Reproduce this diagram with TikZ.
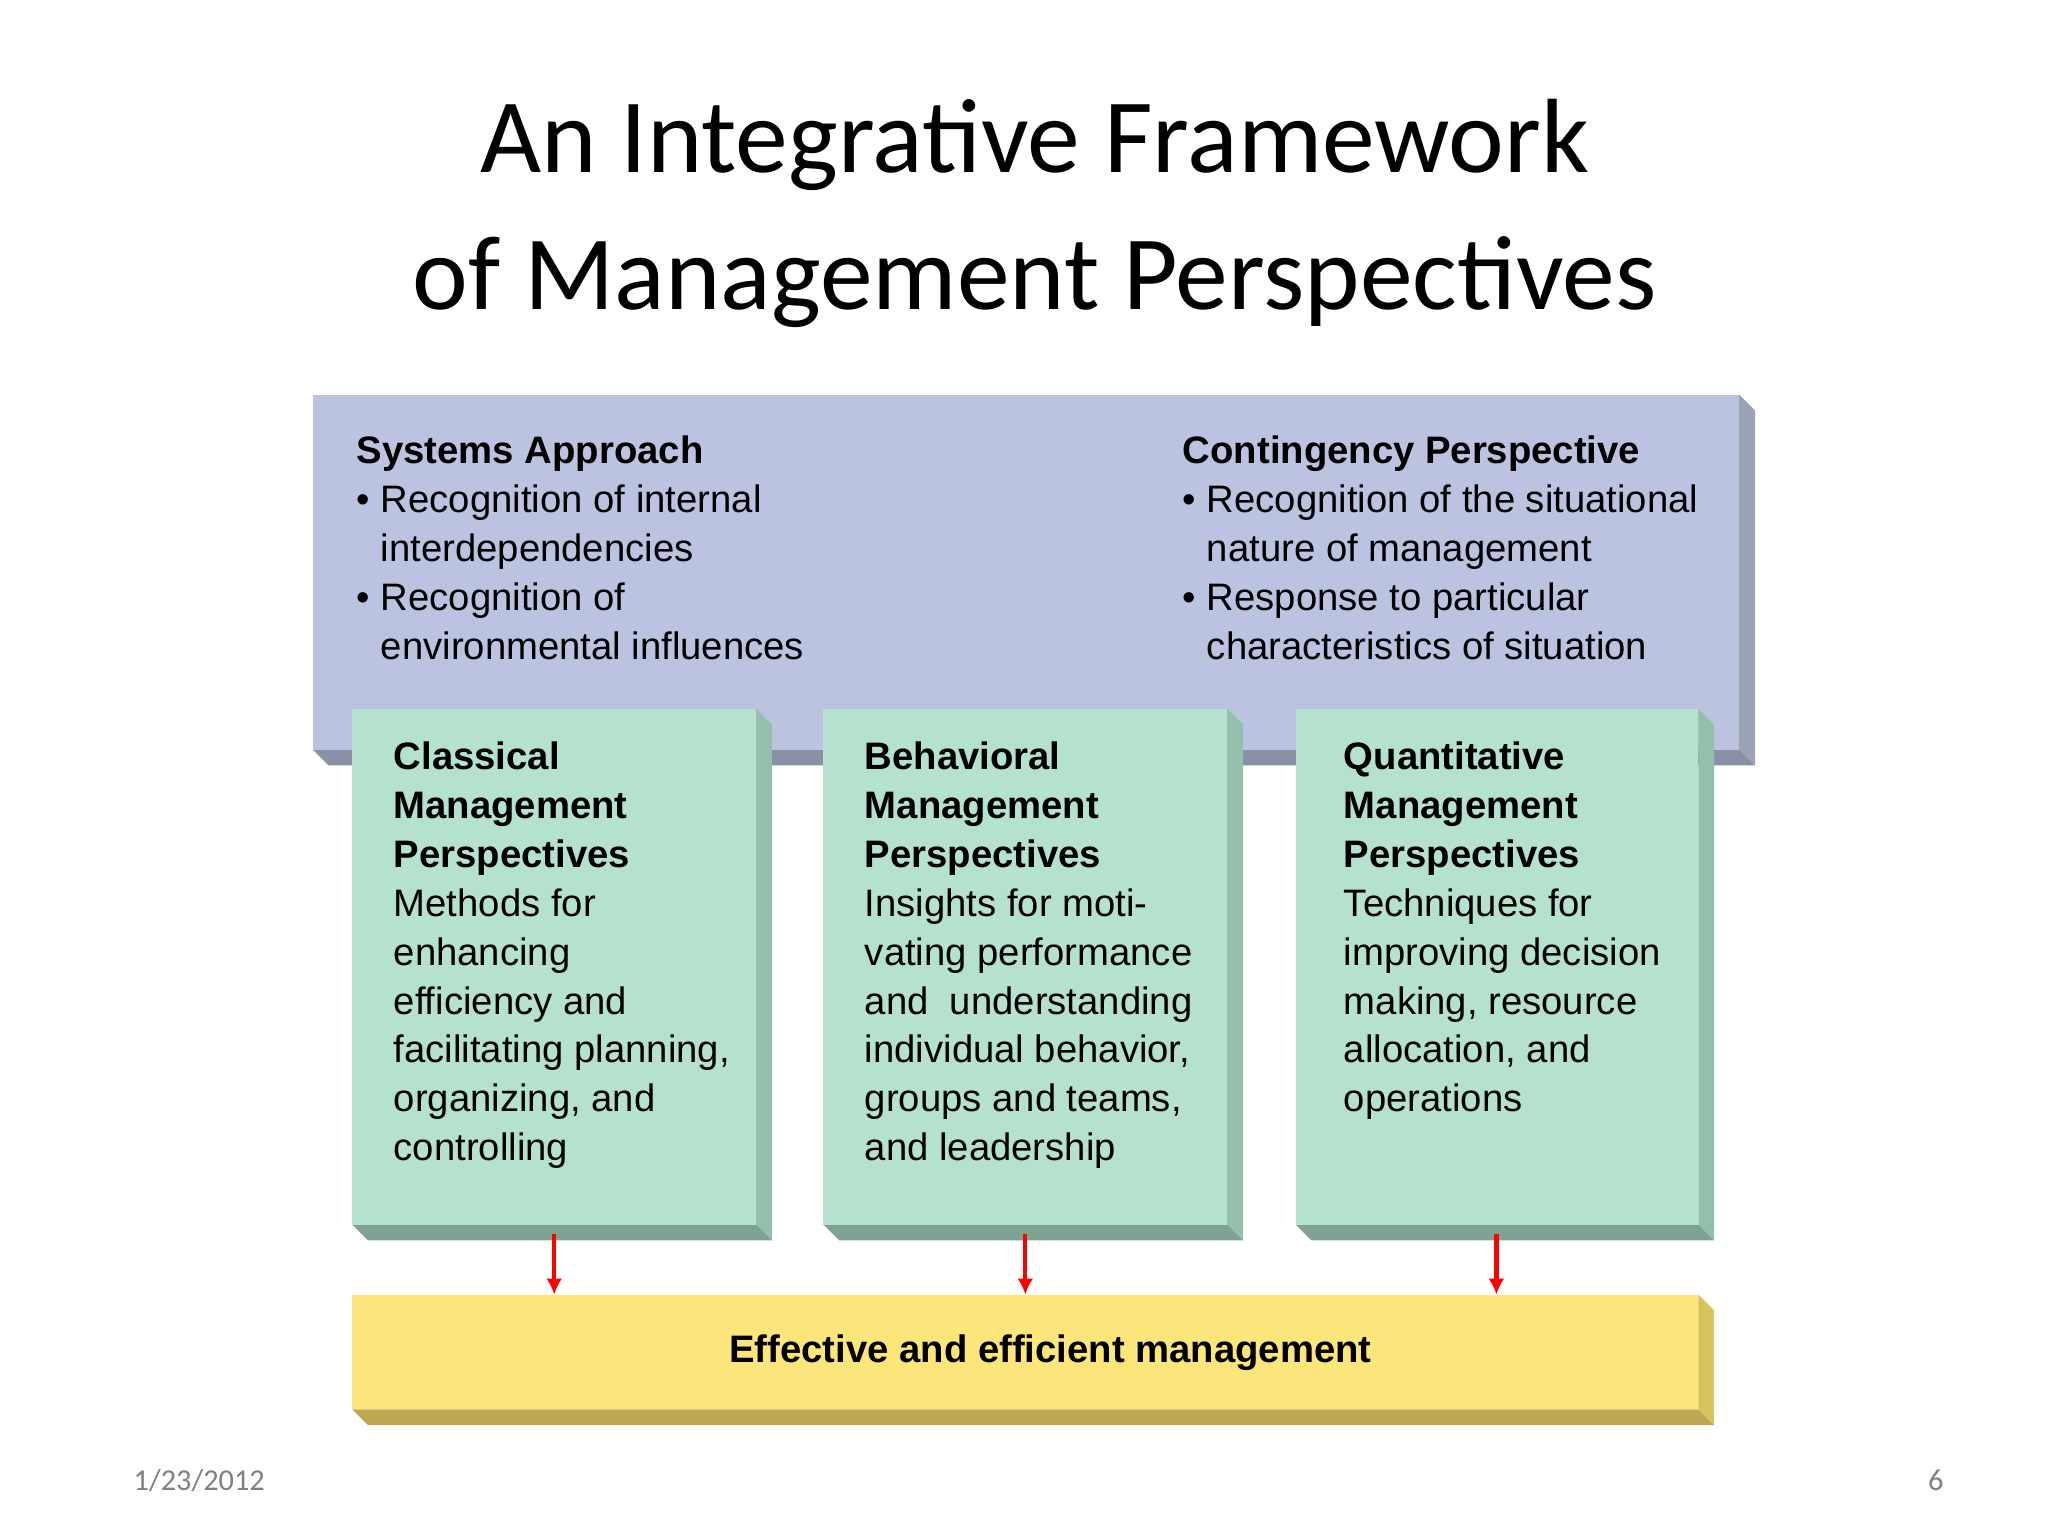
\documentclass[tikz,border=0pt]{standalone}
\usepackage{fontspec}
\setmainfont{Liberation Sans}
\newfontfamily\titlefont{Carlito}
\begin{document}
\begin{tikzpicture}[x=0.5pt,y=-0.5pt,
  txt/.style={anchor=north west,align=left,inner sep=0pt,font=\fontsize{14.5}{18.5}\selectfont},
  arr/.style={draw=red,line width=1.6pt,-{Latex[length=6pt,width=6pt]}}]
\useasboundingbox (0,0) rectangle (1552,1164);
\fill[white] (0,0) rectangle (1552,1164);
\usetikzlibrary{arrows.meta}
\node[font=\titlefont\fontsize{40}{52}\selectfont,align=center] (title) at (784,162) {An Integrative Framework\\of Management Perspectives};
% blue box
\fill[fill={rgb,255:red,157;green,163;blue,183}] (1318,299)--(1330,311)--(1330,580)--(1318,568)--cycle;
\fill[fill={rgb,255:red,138;green,144;blue,165}] (237,568)--(1318,568)--(1330,580)--(249,580)--cycle;
\fill[fill={rgb,255:red,188;green,195;blue,224}] (237,299) rectangle (1318,568);
\node[txt] (sys) at (270,330) {\textbf{Systems Approach}\\• Recognition of internal\\\hphantom{• }interdependencies\\• Recognition of\\\hphantom{• }environmental influences};
\node[txt] (con) at (896,330) {\textbf{Contingency Perspective}\\• Recognition of the situational\\\hphantom{• }nature of management\\• Response to particular\\\hphantom{• }characteristics of situation};
% green boxes
\foreach \a/\b in {267/573,624/930,982/1287}{
  \fill[fill={rgb,255:red,149;green,191;blue,173}] (\b,537)--(\b+12,549)--(\b+12,940)--(\b,928)--cycle;
  \fill[fill={rgb,255:red,127;green,163;blue,147}] (\a,928)--(\b,928)--(\b+12,940)--(\a+12,940)--cycle;
  \fill[fill={rgb,255:red,181;green,226;blue,206}] (\a,537) rectangle (\b,928);
}
\node[txt] (cl) at (298,562) {\textbf{Classical}\\\textbf{Management}\\\textbf{Perspectives}\\Methods for\\enhancing\\efficiency and\\facilitating planning,\\organizing, and\\controlling};
\node[txt] (be) at (655,562) {\textbf{Behavioral}\\\textbf{Management}\\\textbf{Perspectives}\\Insights for moti-\\vating performance\\and\ \ understanding\\individual behavior,\\groups and teams,\\and leadership};
\node[txt] (qu) at (1018,562) {\textbf{Quantitative}\\\textbf{Management}\\\textbf{Perspectives}\\Techniques for\\improving decision\\making, resource\\allocation, and\\operations};
% yellow
\fill[fill={rgb,255:red,216;green,196;blue,95}] (1287,981)--(1299,993)--(1299,1080)--(1287,1068)--cycle;
\fill[fill={rgb,255:red,191;green,168;blue,79}] (267,1068)--(1287,1068)--(1299,1080)--(279,1080)--cycle;
\fill[fill={rgb,255:red,252;green,229;blue,122}] (267,981) rectangle (1287,1068);
\node[font=\bfseries\fontsize{14.5}{18}\selectfont] (eff) at (796,1025) {Effective and efficient management};
\coordinate (c1) at (420,935); \coordinate (c2) at (777,935); \coordinate (c3) at (1134,935);
\coordinate (d1) at (420,981); \coordinate (d2) at (777,981); \coordinate (d3) at (1134,981);
\draw[arr] (c1)--(d1); \draw[arr] (c2)--(d2); \draw[arr] (c3)--(d3);
\node[font=\titlefont\fontsize{11.5}{14}\selectfont,text=gray] (date) at (151,1122) {1/23/2012};
\node[font=\titlefont\fontsize{11.5}{14}\selectfont,text=gray] (pg) at (1467,1122) {6};
\end{tikzpicture}
\end{document}
